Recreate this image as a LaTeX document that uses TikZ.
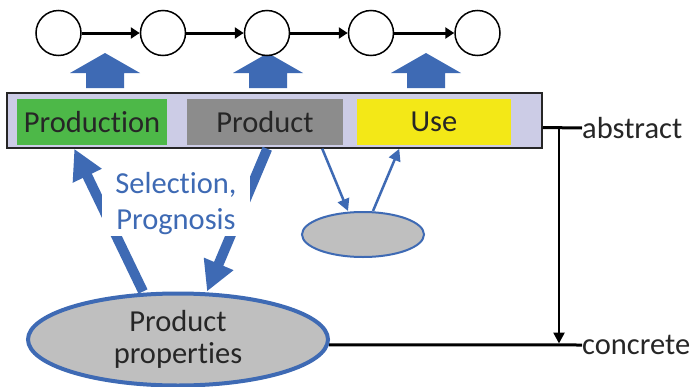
\documentclass[tikz,border=0pt]{standalone}
\usepackage{fontspec}
\setmainfont{Carlito}[Ligatures=NoCommon]
\usetikzlibrary{arrows.meta,shapes.geometric,calc}
\definecolor{pblue}{RGB}{62,106,180}
\definecolor{lav}{RGB}{204,204,230}
\definecolor{pgreen}{RGB}{77,184,72}
\definecolor{pgray}{RGB}{140,140,140}
\definecolor{pyellow}{RGB}{243,232,23}
\definecolor{egray}{RGB}{191,191,191}
\definecolor{txt}{RGB}{38,38,38}
\tikzset{
  state/.style={circle,draw=black,line width=1.5pt,fill=white,minimum size=45pt,inner sep=0pt},
  chain/.style={line width=3pt,-{Triangle[length=9pt,width=11pt]}},
  phase/.style={minimum width=#1,minimum height=46pt,inner sep=0pt,text=txt,font=\fontsize{30.5}{36}\selectfont},
  blockarrow/.style={fill=pblue},
  thick arrow/.style={pblue,line width=10pt,-{Triangle[length=30pt,width=30pt]}},
  thin arrow/.style={pblue,line width=2.5pt,-{Triangle[length=12pt,width=12pt]}},
  level/.style={line width=3pt,black},
  side/.style={text=txt,font=\fontsize{30.5}{36}\selectfont,inner sep=0pt,anchor=west}
}
\begin{document}
\begin{tikzpicture}[x=1pt,y=-1pt]
\useasboundingbox (0,0) rectangle (694,386);
\fill[white] (0,0) rectangle (694,386);
% block arrows
\foreach \cx in {105,268,426}{
  \fill[blockarrow] (\cx-35,73) -- (\cx,53) -- (\cx+35,73) -- (\cx+19,73) -- (\cx+19,88) -- (\cx-19,88) -- (\cx-19,73) -- cycle;
}
% chain of states
\node[state] (c1) at (58.5,33) {};
\node[state] (c2) at (163,33) {};
\node[state] (c3) at (267,33) {};
\node[state] (c4) at (371,33) {};
\node[state] (c5) at (477.5,33) {};
\draw[chain] (c1) -- (c2);
\draw[chain] (c2) -- (c3);
\draw[chain] (c3) -- (c4);
\draw[chain] (c4) -- (c5);
% bar
\node[draw=black!85,line width=1.5pt,fill=lav,minimum width=535pt,minimum height=55pt,inner sep=0pt] (bar) at (274.5,120.5) {};
\node[phase=150pt,fill=pgreen] (prodn) at (92,122) {Production};
\node[phase=156pt,fill=pgray] (prod) at (265,122) {Product};
\node[phase=154pt,fill=pyellow] (use) at (434,122) {Use};
% ellipses
\node[ellipse,draw=pblue,line width=4pt,fill=egray,minimum width=300pt,minimum height=92pt,inner sep=0pt,align=center,text=txt,font=\fontsize{30.5}{31.5}\selectfont] (pp) at (178,339.5) {Product\\properties};
\node[ellipse,draw=pblue,line width=2pt,fill=egray,minimum width=122pt,minimum height=45pt,inner sep=0pt] (se) at (363,234.5) {};
% thick arrows
\draw[thick arrow] ([xshift=-35pt]pp.north) -- ([xshift=68pt]bar.south west);
\draw[thick arrow] ([xshift=261pt]bar.south west) -- ([xshift=29pt]pp.north);
% label
\node[fill=white,inner xsep=13pt,inner ysep=1pt,align=center,text=pblue,font=\fontsize{30.5}{36}\selectfont] (lab) at (176,204) {Selection,\\Prognosis};
% thin arrows
\draw[thin arrow] ([xshift=316pt]bar.south west) -- ([xshift=-15pt]se.north);
\draw[thin arrow] ([xshift=10pt]se.north) -- ([xshift=393pt]bar.south west);
% abstraction levels
\node[side] (abs) at (582,128) {abstract};
\node[side] (con) at (582,345) {concrete};
\coordinate (barR) at ([yshift=-7pt]bar.east);
\coordinate (vtop) at (559,128);
\coordinate (vbot) at (559,345);
\draw[level] (barR) -- (abs.west);
\draw[level] (pp.-2) -- (con.west);
\draw[line width=2.5pt,-{Triangle[length=11pt,width=11pt]}] (vtop) -- ([yshift=1.5pt]vbot);
\end{tikzpicture}
\end{document}
